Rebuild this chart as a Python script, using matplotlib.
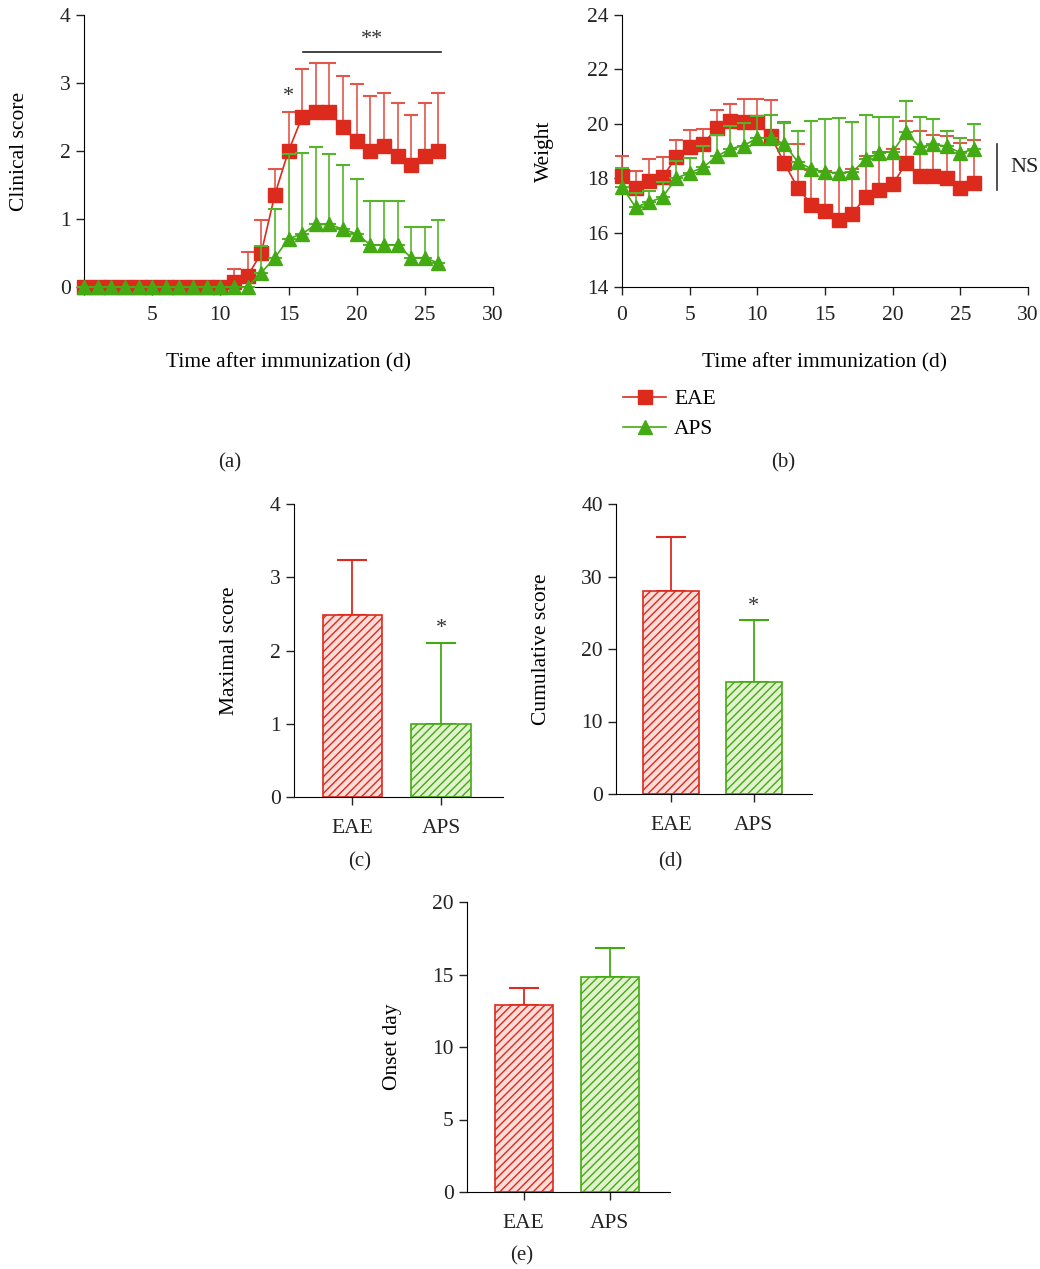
import matplotlib
matplotlib.use("Agg")
import matplotlib.pyplot as plt
from matplotlib.lines import Line2D
import numpy as np

plt.rcParams['font.family'] = ['Liberation Serif', 'DejaVu Serif']
plt.rcParams['font.size'] = 15.5
plt.rcParams['hatch.linewidth'] = 1.0

RED = "#dc2a1c"
GREEN = "#44aa14"
RED_FACE = "#fcdcd8"
GREEN_FACE = "#e2f2cf"

days = list(range(27))

# clinical score (a)
eae_score = [0]*11 + [0.08, 0.16, 0.5, 1.36, 2.0, 2.5, 2.57, 2.57, 2.35, 2.14, 2.0, 2.07, 1.93, 1.79, 1.93, 2.0]
eae_score_top = [0]*11 + [0.26, 0.51, 0.99, 1.73, 2.57, 3.2, 3.3, 3.3, 3.1, 2.99, 2.81, 2.85, 2.71, 2.53, 2.71, 2.86]
aps_score = [0]*13 + [0.21, 0.43, 0.71, 0.78, 0.92, 0.92, 0.85, 0.78, 0.62, 0.62, 0.62, 0.43, 0.43, 0.35]
aps_score_top = [0]*13 + [0.6, 1.15, 1.95, 1.97, 2.06, 1.95, 1.8, 1.59, 1.26, 1.26, 1.26, 0.88, 0.88, 0.98]

# weight (b)
eae_weight = [18.07, 17.63, 17.88, 18.04, 18.77, 19.15, 19.27, 19.84, 20.1, 20.06, 20.05, 19.55, 18.55,
              17.63, 17.03, 16.79, 16.47, 16.69, 17.3, 17.58, 17.77, 18.56, 18.07, 18.07, 18.01, 17.63, 17.83]
eae_weight_top = [18.83, 18.28, 18.72, 18.77, 19.39, 19.79, 19.82, 20.49, 20.74, 20.93, 20.9, 20.87, 20.07,
                  19.24, 18.3, 18.25, 18.2, 18.35, 18.81, 18.96, 19.06, 20.09, 19.75, 19.58, 19.55, 19.29, 19.39]
aps_weight = [17.69, 16.93, 17.12, 17.3, 18.0, 18.2, 18.4, 18.8, 19.08, 19.2, 19.48, 19.48, 19.26,
              18.59, 18.34, 18.22, 18.2, 18.22, 18.69, 18.93, 18.98, 19.69, 19.14, 19.24, 19.18, 18.93, 19.06]
aps_weight_top = [18.37, 17.45, 17.52, 17.85, 18.63, 18.75, 19.17, 19.58, 19.91, 20.04, 20.28, 20.31, 20.02,
                  19.75, 20.1, 20.18, 20.22, 20.05, 20.34, 20.25, 20.25, 20.83, 20.25, 20.18, 19.75, 19.48, 19.98]

groups = ["EAE", "APS"]
maximal = [2.48, 1.0]
maximal_top = [3.24, 2.1]
cumulative = [28.0, 15.4]
cumulative_top = [35.5, 24.0]
onset = [12.9, 14.8]
onset_top = [14.1, 16.8]

W, H = 1040, 1269
fig = plt.figure(figsize=(W/100, H/100), dpi=100)

def add_ax(l, r, t, b):
    return fig.add_axes([l/W, 1-b/H, (r-l)/W, (b-t)/H])

def style(ax):
    ax.spines['top'].set_visible(False)
    ax.spines['right'].set_visible(False)
    ax.tick_params(direction='out', length=6, width=1, colors='#222222', labelcolor='#222222')
    ax.tick_params(axis='x', pad=8)

def line_panel(ax, eae, eae_top, aps, aps_top):
    eae = np.array(eae); aps = np.array(aps)
    ax.errorbar(days, eae, yerr=[np.zeros_like(eae), np.array(eae_top) - eae], color=RED, ecolor="#e4554a",
                elinewidth=1.2, capsize=5, capthick=1.5, marker='s', markersize=9.5, lw=1.2,
                clip_on=False, zorder=3)
    ax.errorbar(days, aps, yerr=[np.zeros_like(aps), np.array(aps_top) - aps], color=GREEN, ecolor="#55b52a",
                elinewidth=1.2, capsize=5, capthick=1.5, marker='^', markersize=10.5, lw=1.2,
                clip_on=False, zorder=4)

# (a)
ax = add_ax(84, 493, 15, 287)
line_panel(ax, eae_score, eae_score_top, aps_score, aps_score_top)
ax.set_xlim(0, 30)
ax.set_ylim(0, 4)
ax.set_xticks(range(0, 31, 5))
ax.set_xticklabels([""] + [str(v) for v in range(5, 31, 5)])
ax.set_yticks(range(5))
ax.set_ylabel("Clinical score", labelpad=22)
ax.set_xlabel("Time after immunization (d)", labelpad=20)
style(ax)
ax.text(15, 2.66, "*", ha='center', va='bottom', fontsize=16, color='#333333')
ax.plot([16.1, 26.2], [3.46, 3.46], color='#222222', lw=1.2)
ax.text(21.1, 3.5, "**", ha='center', va='bottom', fontsize=16, color='#333333')

# (b)
ax = add_ax(622, 1028, 15, 287)
line_panel(ax, eae_weight, eae_weight_top, aps_weight, aps_weight_top)
ax.set_xlim(0, 30)
ax.set_ylim(14, 24)
ax.set_xticks(range(0, 31, 5))
ax.set_yticks(range(14, 25, 2))
ax.set_ylabel("Weight", labelpad=24)
ax.set_xlabel("Time after immunization (d)", labelpad=20)
style(ax)
ax.plot([27.7, 27.7], [17.58, 19.24], color='#333333', lw=1.2, clip_on=False)
ax.text(28.7, 18.4, "NS", ha='left', va='center', fontsize=16, color='#222222')
handles = [Line2D([], [], color=RED, marker='s', markersize=9.5, lw=1.2),
           Line2D([], [], color=GREEN, marker='^', markersize=10.5, lw=1.2)]
fig.legend(handles, groups, loc='upper left', bbox_to_anchor=(604/W, 1-370/H), frameon=False,
           fontsize=15.5, handlelength=2.0, handletextpad=0.35, labelspacing=0.45)

def bar_panel(ax, vals, tops, ylim, yticks, ylabel, star=None):
    x = np.arange(len(groups))
    faces = [RED_FACE, GREEN_FACE]
    edges = [RED, GREEN]
    for i in range(len(groups)):
        ax.bar(x[i], vals[i], width=0.67, color=faces[i], edgecolor=edges[i], hatch='////',
               linewidth=1.2, zorder=2)
        ax.errorbar(x[i], vals[i], yerr=[[0], [tops[i] - vals[i]]], color=edges[i], elinewidth=1.3,
                    capsize=11, capthick=1.5, fmt='none', zorder=1)
    ax.set_xlim(-0.66, 1.7)
    ax.set_ylim(*ylim)
    ax.set_yticks(yticks)
    ax.set_xticks(x)
    ax.set_xticklabels(groups)
    ax.set_ylabel(ylabel, labelpad=22)
    style(ax)
    ax.tick_params(axis='x', pad=10)
    if star is not None:
        ax.text(1, star, "*", ha='center', va='bottom', fontsize=16, color='#333333')

# (c)
ax = add_ax(294, 503, 504, 797)
bar_panel(ax, maximal, maximal_top, (0, 4), range(5), "Maximal score", star=2.17)
# (d)
ax = add_ax(616, 812, 504, 794)
bar_panel(ax, cumulative, cumulative_top, (0, 40), range(0, 41, 10), "Cumulative score", star=24.6)
# (e)
ax = add_ax(467, 670, 902, 1192)
bar_panel(ax, onset, onset_top, (0, 20), range(0, 21, 5), "Onset day")

for label, xp, yp in [("(a)", 230, 463), ("(b)", 783, 463), ("(c)", 360, 862), ("(d)", 670, 862), ("(e)", 522, 1256)]:
    fig.text(xp/W, 1-yp/H, label, ha='center', va='center', fontsize=15, color='#222222')

fig.savefig("out.png", dpi=100)
